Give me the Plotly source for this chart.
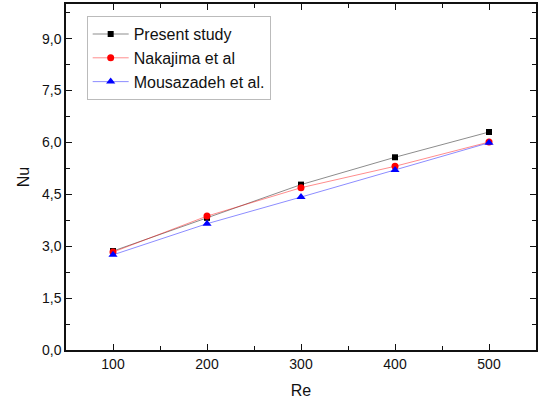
import plotly.graph_objects as go

# Nusselt number vs Reynolds number for three data sources
re_values = [100, 200, 300, 400, 500]
nu_present = [2.86, 3.82, 4.78, 5.57, 6.30]
nu_nakajima = [2.83, 3.87, 4.69, 5.31, 6.01]
nu_mousazadeh = [2.75, 3.65, 4.42, 5.20, 5.99]

x_ticks = [100, 200, 300, 400, 500]
y_ticks = [0, 1.5, 3.0, 4.5, 6.0, 7.5, 9.0]

font_family = "Liberation Sans, Arial, sans-serif"

fig = go.Figure()
fig.add_trace(go.Scatter(
    x=re_values, y=nu_present, name="Present study", mode="lines+markers",
    line=dict(color="rgba(0,0,0,0.45)", width=1),
    marker=dict(symbol="square", size=6, color="black"),
))
fig.add_trace(go.Scatter(
    x=re_values, y=nu_nakajima, name="Nakajima et al", mode="lines+markers",
    line=dict(color="rgba(255,0,0,0.45)", width=1),
    marker=dict(symbol="circle", size=7, color="red"),
))
fig.add_trace(go.Scatter(
    x=re_values, y=nu_mousazadeh, name="Mousazadeh et al.", mode="lines+markers",
    line=dict(color="rgba(0,0,255,0.45)", width=1),
    marker=dict(symbol="triangle-up", size=8, color="blue"),
))

axis_common = dict(
    showgrid=False, zeroline=False,
    showline=True, linecolor="#111", linewidth=1.5, mirror="ticks",
    ticks="inside", ticklen=6, tickwidth=1.2, tickcolor="#111",
    tickfont=dict(family=font_family, size=14, color="#111"),
)

fig.update_layout(
    width=540, height=402,
    margin=dict(l=66, r=2, t=4, b=52),
    paper_bgcolor="white", plot_bgcolor="white",
    separators=",.",
    font=dict(family=font_family, color="#111"),
    xaxis=dict(
        range=[50, 550], tickvals=x_ticks,
        minor=dict(ticks="inside", dtick=50, tick0=50, ticklen=4, tickcolor="#111", tickwidth=1),
        title=dict(text="Re", font=dict(family=font_family, size=16), standoff=14),
        **axis_common,
    ),
    yaxis=dict(
        range=[0, 10], tickvals=y_ticks, tickformat=".1f",
        minor=dict(ticks="inside", dtick=0.75, tick0=0, ticklen=4, tickcolor="#111", tickwidth=1),
        title=dict(text="Nu", font=dict(family=font_family, size=16), standoff=8),
        **axis_common,
    ),
    legend=dict(
        x=0.044, y=0.965, xanchor="left", yanchor="top",
        bgcolor="white", bordercolor="#bbbbbb", borderwidth=1,
        font=dict(family=font_family, size=16, color="#111"),
        itemwidth=36, tracegroupgap=0,
    ),
)

fig.write_html("out.html")
